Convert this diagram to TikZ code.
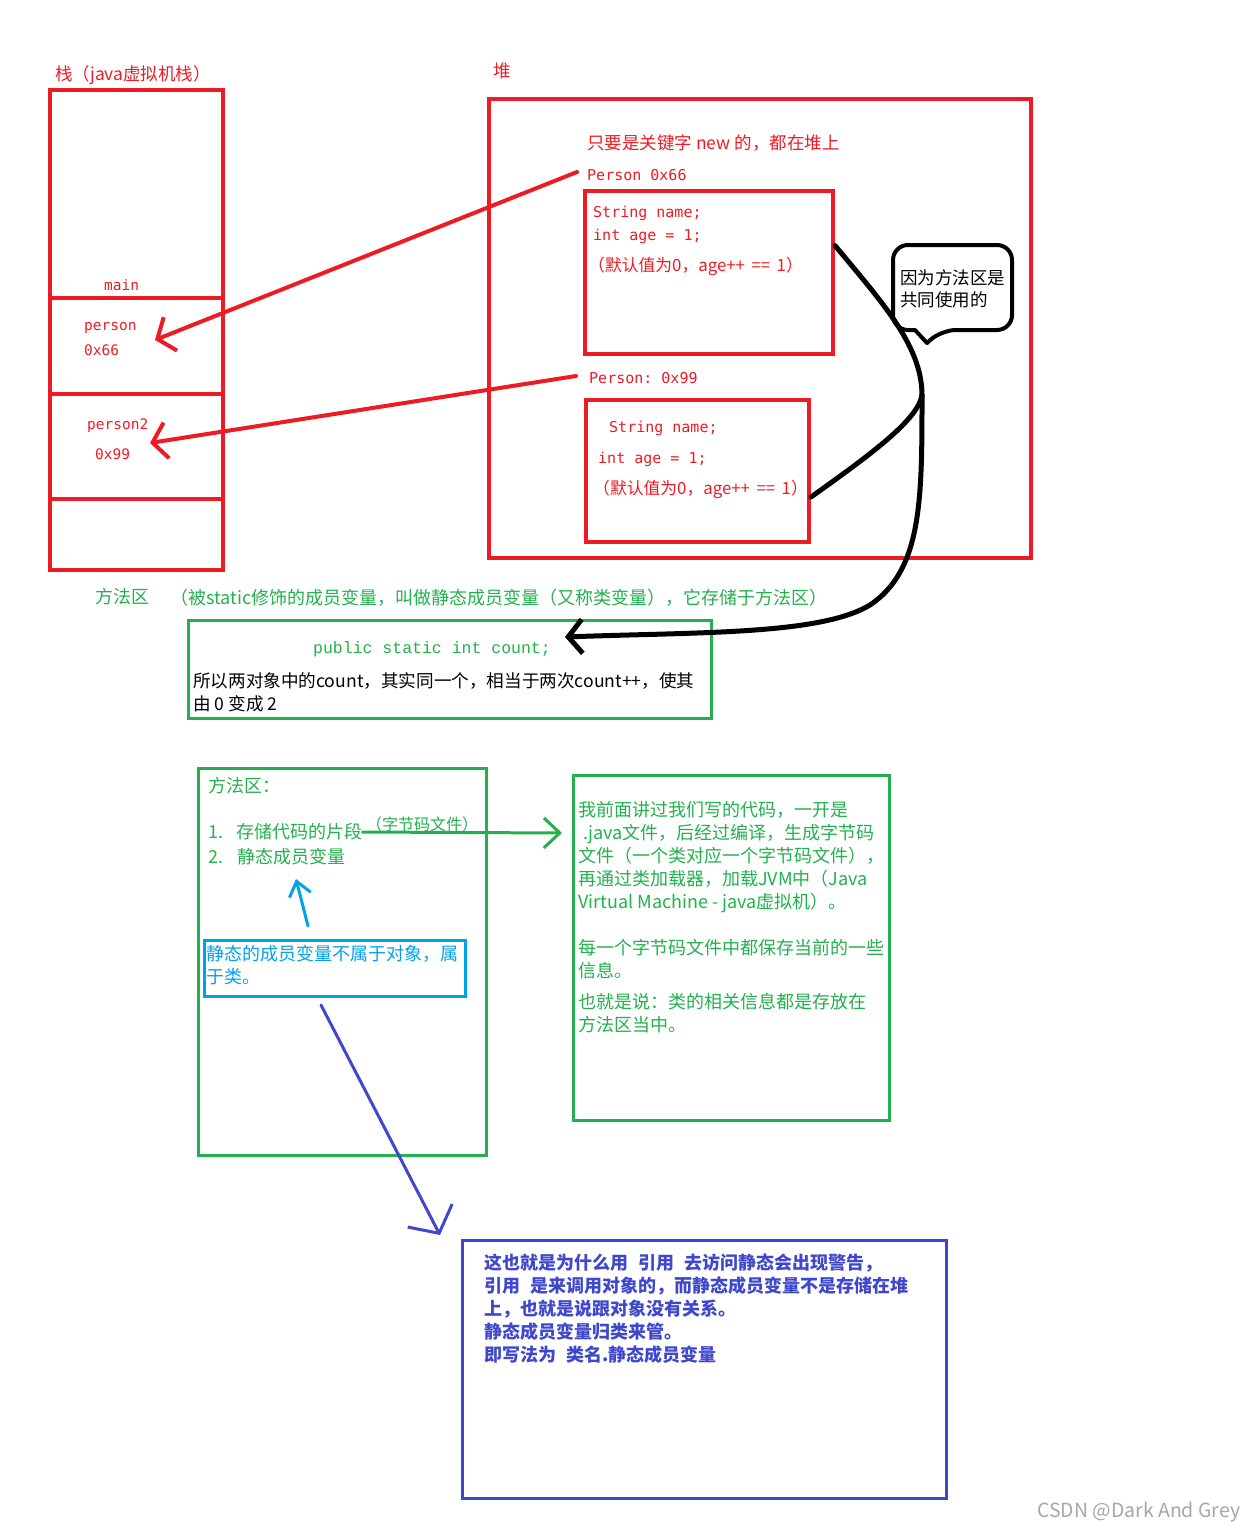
\documentclass[tikz,border=0pt]{standalone}
\usepackage{fontspec}
\setmainfont{Noto Sans CJK SC}
\setmonofont{DejaVu Sans Mono}
\newfontfamily\codefont{Liberation Mono}
\usetikzlibrary{positioning,arrows.meta,fit,calc}
\definecolor{stackred}{HTML}{ED1C24}
\definecolor{methodgreen}{HTML}{22B14C}
\definecolor{notecyan}{HTML}{00A2E8}
\definecolor{noteblue}{HTML}{3F48CC}
\definecolor{markgray}{HTML}{A6A6A6}
\tikzset{
  redbox/.style={draw=stackred,line width=4pt,inner sep=0pt},
  greenbox/.style={draw=methodgreen,line width=3pt,inner sep=0pt},
  cyanbox/.style={draw=notecyan,line width=3pt,inner sep=0pt},
  bluebox/.style={draw=noteblue,line width=3pt,inner sep=0pt},
  redline/.style={draw=stackred,line width=4pt},
  txt/.style={inner sep=0pt,anchor=west,font=\fontsize{18}{23}\selectfont},
  blocktxt/.style={inner sep=0pt,anchor=north west,align=left,font=\fontsize{18}{23}\selectfont},
  rtxt/.style={txt,text=stackred,font=\fontsize{17.5}{20}\selectfont},
  rnote/.style={txt,text=stackred,font=\fontsize{16.8}{20}\selectfont},
  rcode/.style={txt,text=stackred,font=\ttfamily\fontsize{15}{20}\selectfont},
  stkcode/.style={txt,text=stackred,font=\ttfamily\fontsize{14.5}{20}\selectfont},
  gtxt/.style={txt,text=methodgreen},
  redar/.style={draw=stackred,line width=4pt,line cap=round,
    -{Straight Barb[length=14pt,width=36pt]}},
  blackar/.style={draw=black,line width=5pt,line cap=round,
    -{Straight Barb[length=14pt,width=34pt]}},
  greenar/.style={draw=methodgreen,line width=3pt,line cap=round,
    -{Straight Barb[length=16pt,width=30pt]}},
  cyanar/.style={draw=notecyan,line width=3pt,line cap=round,
    -{Straight Barb[length=14pt,width=22pt]}},
  bluear/.style={draw=noteblue,line width=3pt,line cap=round,
    -{Straight Barb[length=20pt,width=50pt]}},
  bubble/.style={draw=black,line width=4pt,line join=round},
}

\begin{document}
\begin{tikzpicture}[x=1pt,y=-1pt]
  \useasboundingbox (0,0) rectangle (1256,1533);

  % stack
  \node[rtxt] (stacklbl) at (55,75) {栈（java虚拟机栈）};
  \node[redbox,fit={(50,90)(223,570)}] (stack) {};
  \foreach \y in {298,394,499} \draw[redline] (50,\y) -- (223,\y);
  \node[stkcode] (mainlbl) at (104,285) {main};
  \node[stkcode] (ref1) at (84,328) {person};
  \node[stkcode] (ref1addr) at (84,350) {0x66};
  \node[stkcode] (ref2) at (87,426) {person2};
  \node[stkcode] (ref2addr) at (95,454) {0x99};
  \coordinate (in66) at (155,340);
  \coordinate (in99) at (150,443);

  % heap
  \node[rtxt] (heaplbl) at (493,71) {堆};
  \node[redbox,fit={(489,99)(1031,558)}] (heap) {};
  \node[rtxt] (newnote) at (587,143) {只要是关键字 new 的，都在堆上};
  \node[rcode] (p66) at (587,175) {Person 0x66};
  \node[redbox,fit={(585,191)(833,354)}] (obj66) {};
  \node[rcode] at (593,213) {String name;};
  \node[rcode] at (593,236) {int age = 1;};
  \node[rnote] at (588,266) {（默认值为0，age++ \,==\, 1）};
  \node[rcode] (p99) at (589,378) {Person: 0x99};
  \node[redbox,fit={(586,400)(809,542)}] (obj99) {};
  \node[rcode] at (609,428) {String name;};
  \node[rcode] at (598,459) {int age = 1;};
  \node[rnote] at (593,489) {（默认值为0，age++ \,==\, 1）};

  \draw[redar] ([xshift=-10pt,yshift=3pt]p66.west) -- (in66);
  \draw[redar] ([xshift=-13pt,yshift=2pt]p99.west) -- (in99);

  % shared note
  \draw[bubble] (915,330) [rounded corners=15pt] -- (893,330) -- (893,245)
    -- (1012,245) -- (1012,330) -- (941,330) [sharp corners] -- (927,343) -- cycle;
  \node[blocktxt,text=black,font=\fontsize{17.5}{22}\selectfont] (shared) at (900,269) {因为方法区是\\共同使用的};

  % static field
  \node[gtxt] (mlbl) at (95,597) {方法区};
  \node[gtxt] (mnote) at (170,598) {（被static修饰的成员变量，叫做静态成员变量（又称类变量），它存储于方法区）};
  \node[greenbox,fit={(188,620)(711,718)}] (countbox) {};
  \node[inner sep=0pt,text=methodgreen,font=\codefont\fontsize{16.5}{20}\selectfont] (count) at (432,649) {public static int count;};
  \node[blocktxt,text=black,font=\fontsize{17.6}{23}\selectfont] (countnote) at (193,672) {所以两对象中的count，其实同一个，相当于两次count++，使其\\由 0 变成 2};
  \coordinate (cntin) at (565,637);
  \draw[blackar] ([yshift=27pt]obj66.east) .. controls (880,300) and (922,345) .. (922,395)
    .. controls (922,500) and (922,570) .. (870,605)
    .. controls (820,635) and (700,632) .. (cntin);
  \draw[draw=black,line width=5pt,line cap=round] ([yshift=-26pt]obj99.east)
    .. controls (870,455) and (918,420) .. (922,395);

  % method area
  \node[greenbox,fit={(198,768)(486,1155)}] (marea) {};
  \node[gtxt] (mtitle) at (208,786) {方法区：};
  \node[gtxt] (item1) at (208,832) {1.\hspace{13pt}存储代码的片段};
  \node[gtxt] (item2) at (208,857) {2.\hspace{14pt}静态成员变量};
  \node[gtxt,font=\fontsize{16}{20}\selectfont] (bytecode) at (366,824) {（字节码文件）};
  \node[greenbox,fit={(573,775)(889,1120)}] (classbox) {};
  \node[blocktxt,text=methodgreen] (classnote) at (578,801) {我前面讲过我们写的代码，一开是\\
    \hspace{5pt}.java文件，后经过编译，生成字节码\\
    文件（一个类对应一个字节码文件），\\
    再通过类加载器，加载JVM中（Java\\
    Virtual Machine - java虚拟机）。\\[23pt]
    每一个字节码文件中都保存当前的一些\\
    信息。\\[8pt]
    也就是说：类的相关信息都是存放在\\
    方法区当中。};
  \coordinate (classin) at (562,833);
  \draw[greenar] (item1.east) -- (classin);

  % static members belong to class
  \node[cyanbox,fit={(204,940)(465,996)}] (clsnote) {};
  \node[blocktxt,text=notecyan] (clstxt) at (206,945) {静态的成员变量不属于对象，属\\于类。};
  \coordinate (up1) at (308,926);
  \coordinate (up2) at (296,879);
  \draw[cyanar] (up1) -- (up2);

  % warning note
  \node[bluebox,fit={(462,1240)(946,1498)}] (warn) {};
  \node[blocktxt,text=noteblue,font=\bfseries\fontsize{18}{23}\selectfont] (warntxt) at (484,1254)
    {这也就是为什么用\hspace{10pt}引用\hspace{10pt}去访问静态会出现警告，\\
     引用\hspace{10pt}是来调用对象的，而静态成员变量不是存储在堆\\
     上，也就是说跟对象没有关系。\\
     静态成员变量归类来管。\\
     即写法为\hspace{10pt}类名.静态成员变量};
  \coordinate (down1) at (321,1005);
  \coordinate (down2) at (440,1235);
  \draw[bluear] (down1) -- (down2);

  \node[txt,text=markgray,font=\fontsize{19.5}{20}\selectfont] (mark) at (1037,1512) {CSDN @Dark And Grey};
\end{tikzpicture}
\end{document}
